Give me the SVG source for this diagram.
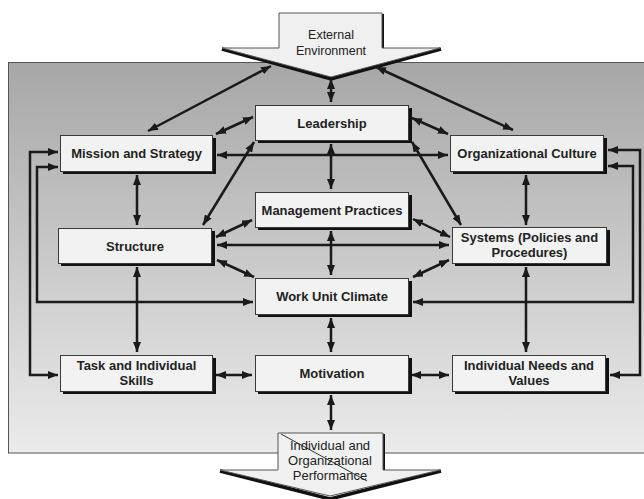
<svg xmlns="http://www.w3.org/2000/svg" width="644" height="499" viewBox="0 0 644 499">
  <defs>
    <linearGradient id="bg" x1="0" y1="0" x2="0" y2="1">
      <stop offset="0" stop-color="#a7a7a7"/>
      <stop offset="0.5" stop-color="#c9c9c9"/>
      <stop offset="1" stop-color="#ebebeb"/>
    </linearGradient>
    <marker id="ah" viewBox="0 0 10 8" refX="10" refY="4" markerWidth="10" markerHeight="8" markerUnits="userSpaceOnUse" orient="auto-start-reverse">
      <path d="M0,0 L10,4 L0,8 z" fill="#1a1a1a"/>
    </marker>
    <style>
      .box { fill: #f2f2f2; stroke: #3a3a3a; stroke-width: 1; }
      .sh { fill: #111; }
      .lbl { font-family: "Liberation Sans", Arial, sans-serif; font-size: 13px; font-weight: bold; fill: #222; text-anchor: middle; }
      .alb { font-family: "Liberation Sans", Arial, sans-serif; font-size: 12.5px; fill: #222; text-anchor: middle; }
      .c { fill: none; stroke: #1a1a1a; stroke-width: 2.5; marker-start: url(#ah); marker-end: url(#ah); }
    </style>
  </defs>

  <!-- background panel -->
  <rect x="8.5" y="62.5" width="640" height="390.5" fill="url(#bg)" stroke="#555" stroke-width="1"/>

  <!-- External Environment arrow -->
  <g id="external-environment">
    <polyline points="383,14 383,49" fill="none" stroke="#111" stroke-width="2"/>
    <polyline points="222,49 331,79 441,49" fill="none" stroke="#111" stroke-width="3.5"/>
    <polygon points="279,13 382,13 382,48 440,48 331,77 222,48 279,48" fill="#f0f0f0" stroke="#555" stroke-width="1"/>
    <text class="alb" x="331" y="39">External</text>
    <text class="alb" x="331" y="55">Environment</text>
  </g>

  <!-- Performance arrow -->
  <g id="performance">
    <polyline points="384,434 384,471" fill="none" stroke="#111" stroke-width="2"/>
    <polyline points="220,471 330,499 441,471" fill="none" stroke="#111" stroke-width="3.5"/>
    <polygon points="278,433 383,433 383,470 440,470 330,496 220,470 278,470" fill="#f0f0f0" stroke="#555" stroke-width="1"/>
    <line x1="281" y1="434" x2="367" y2="481" stroke="#333" stroke-width="1"/>
    <text class="alb" x="330" y="450" style="font-size:13px">Individual and</text>
    <text class="alb" x="330" y="465" style="font-size:13px">Organizational</text>
    <text class="alb" x="330" y="480" style="font-size:13px">Performance</text>
  </g>

  <!-- connectors -->
  <g id="connectors">
    <line class="c" x1="271" y1="66" x2="148" y2="131"/>
    <line class="c" x1="331" y1="79" x2="331" y2="102"/>
    <line class="c" x1="376" y1="67" x2="513" y2="130"/>
    <line class="c" x1="253" y1="117" x2="216" y2="134"/>
    <line class="c" x1="412" y1="118" x2="448" y2="134"/>
    <line class="c" x1="217" y1="155" x2="448" y2="155"/>
    <line class="c" x1="331" y1="144" x2="331" y2="189"/>
    <line class="c" x1="254" y1="142" x2="203" y2="225"/>
    <line class="c" x1="412" y1="142" x2="461" y2="225"/>
    <line class="c" x1="137" y1="175" x2="137" y2="225"/>
    <line class="c" x1="526" y1="175" x2="526" y2="225"/>
    <line class="c" x1="252" y1="220" x2="216" y2="237"/>
    <line class="c" x1="413" y1="219" x2="450" y2="237"/>
    <line class="c" x1="217" y1="245" x2="449" y2="245"/>
    <line class="c" x1="331" y1="231" x2="331" y2="275"/>
    <line class="c" x1="217" y1="260" x2="254" y2="277"/>
    <line class="c" x1="449" y1="260" x2="413" y2="277"/>
    <line class="c" x1="137" y1="267" x2="137" y2="352"/>
    <line class="c" x1="526" y1="267" x2="526" y2="352"/>
    <line class="c" x1="331" y1="318" x2="331" y2="352"/>
    <line class="c" x1="216" y1="375" x2="252" y2="375"/>
    <line class="c" x1="411" y1="375" x2="449" y2="375"/>
    <line class="c" x1="331" y1="395" x2="331" y2="430"/>
    <path class="c" d="M58,152 H30 V375 H58"/>
    <path class="c" d="M58,167 H37 V302 H253"/>
    <path class="c" d="M608,150 H640 V375 H610"/>
    <path class="c" d="M608,166 H633 V302 H413"/>
  </g>

  <!-- nodes -->
  <g id="leadership">
    <rect class="sh" x="258" y="108" width="154" height="35"/>
    <rect class="box" x="255.5" y="105.5" width="153" height="35"/>
    <text class="lbl" x="332" y="127.5">Leadership</text>
  </g>
  <g id="mission-strategy">
    <rect class="sh" x="63" y="138" width="153" height="36"/>
    <rect class="box" x="60.5" y="135.5" width="152" height="36"/>
    <text class="lbl" x="136.5" y="158">Mission and Strategy</text>
  </g>
  <g id="organizational-culture">
    <rect class="sh" x="453" y="138" width="154" height="36"/>
    <rect class="box" x="450.5" y="135.5" width="153" height="36"/>
    <text class="lbl" x="527" y="158">Organizational Culture</text>
  </g>
  <g id="management-practices">
    <rect class="sh" x="258" y="195" width="154" height="35"/>
    <rect class="box" x="255.5" y="192.5" width="153" height="35"/>
    <text class="lbl" x="332" y="214.5">Management Practices</text>
  </g>
  <g id="structure">
    <rect class="sh" x="61" y="231" width="154" height="35"/>
    <rect class="box" x="58.5" y="228.5" width="153" height="35"/>
    <text class="lbl" x="135" y="250.5">Structure</text>
  </g>
  <g id="systems">
    <rect class="sh" x="455" y="230" width="155" height="36"/>
    <rect class="box" x="452.5" y="227.5" width="154" height="36"/>
    <text class="lbl" x="529.5" y="242">Systems (Policies and</text>
    <text class="lbl" x="529.5" y="257">Procedures)</text>
  </g>
  <g id="work-unit-climate">
    <rect class="sh" x="258" y="281" width="154" height="36"/>
    <rect class="box" x="255.5" y="278.5" width="153" height="36"/>
    <text class="lbl" x="332" y="301">Work Unit Climate</text>
  </g>
  <g id="task-skills">
    <rect class="sh" x="63" y="358" width="153" height="36"/>
    <rect class="box" x="60.5" y="355.5" width="152" height="36"/>
    <text class="lbl" x="136.5" y="370">Task and Individual</text>
    <text class="lbl" x="136.5" y="385">Skills</text>
  </g>
  <g id="motivation">
    <rect class="sh" x="258" y="358" width="154" height="36"/>
    <rect class="box" x="255.5" y="355.5" width="153" height="36"/>
    <text class="lbl" x="332" y="378">Motivation</text>
  </g>
  <g id="needs-values">
    <rect class="sh" x="455" y="358" width="154" height="36"/>
    <rect class="box" x="452.5" y="355.5" width="153" height="36"/>
    <text class="lbl" x="529" y="370">Individual Needs and</text>
    <text class="lbl" x="529" y="385">Values</text>
  </g>
</svg>
